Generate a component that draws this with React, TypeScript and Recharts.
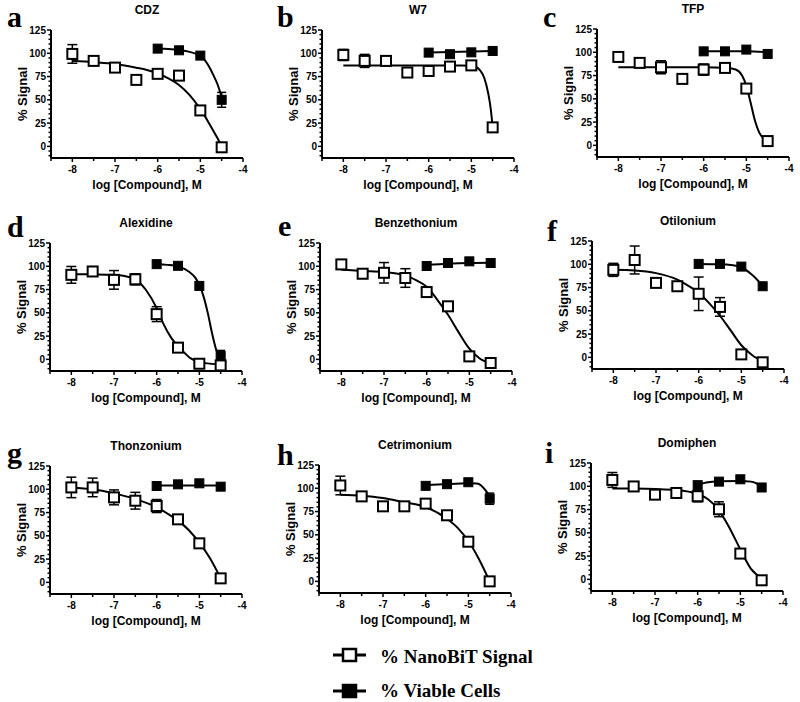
import React from 'react'
import { ComposedChart, Line, Scatter, XAxis, YAxis, ErrorBar } from 'recharts'

// concentrations (log M)
const CONC = [-8, -7.5, -7, -6.5, -6, -5.5, -5, -4.5]
const VIABLE_CONC = [-6, -5.5, -5, -4.5]

const X_TICKS = [-8.5, -8, -7.5, -7, -6.5, -6, -5.5, -5, -4.5, -4]
const Y_TICKS = [-10, -5, 0, 5, 10, 15, 20, 25, 30, 35, 40, 45, 50, 55, 60, 65, 70, 75, 80, 85, 90, 95, 100, 105, 110, 115, 120, 125]

// a - CDZ
const cdzSignal = [99.3, 91.8, 84.6, 71.4, 77.9, 76.0, 38.6, -1.0]
const cdzSignalErr = [10, 3, 3, 0, 0, 0, 0, 0]
const cdzViable = [105.0, 103.2, 97.5, 50.0]
const cdzViableErr = [0, 0, 0, 8]
const cdzSignalFitX = [-8, -7.5, -7, -6.5, -6.25, -6, -5.75, -5.5, -5.25, -5, -4.9, -4.8, -4.7, -4.6, -4.5]
const cdzSignalFit = [92, 90.5, 88.5, 84.5, 82, 78.5, 73, 66, 55, 40, 33, 25, 17, 9, 0]
const cdzViableFitX = [-6, -5.75, -5.5, -5.25, -5, -4.9, -4.8, -4.7, -4.6, -4.5]
const cdzViableFit = [105, 104.5, 103.5, 101.5, 97, 93, 86, 77, 67, 53]

// b - W7
const w7Signal = [98.2, 91.8, 91.8, 79.3, 81.0, 85.7, 87.0, 20.4]
const w7SignalErr = [6, 7, 0, 0, 0, 5, 4, 0]
const w7Viable = [100.7, 99.0, 101.0, 102.5]
const w7ViableErr = [0, 0, 0, 0]
const w7SignalFitX = [-8, -6, -5.25, -5, -4.9, -4.8, -4.7, -4.6, -4.55, -4.5]
const w7SignalFit = [87, 87, 87, 86.5, 85.5, 82, 74, 56, 42, 21]
const w7ViableFitX = [-6, -4.5]
const w7ViableFit = [100.7, 102.5]

// c - TFP
const tfpSignal = [95.0, 88.6, 83.9, 71.4, 81.4, 83.2, 61.0, 4.6]
const tfpSignalErr = [3, 4, 7, 4, 6, 0, 0, 0]
const tfpViable = [101.0, 101.0, 102.9, 98.2]
const tfpViableErr = [0, 0, 0, 0]
const tfpSignalFitX = [-8, -6, -5.5, -5.25, -5.1, -5, -4.9, -4.8, -4.7, -4.6, -4.5]
const tfpSignalFit = [84, 84, 83.5, 81.5, 75, 64, 46, 27, 14, 7.5, 4.5]
const tfpViableFitX = [-6, -5.5, -5, -4.5]
const tfpViableFit = [101.2, 101.2, 101, 100]

// d - Alexidine
const alexSignal = [90.8, 94.4, 85.4, 86.0, 48.6, 12.6, -4.7, -6.5]
const alexSignalErr = [9, 2, 10, 6, 8, 0, 0, 0]
const alexViable = [102.3, 100.5, 78.9, 3.6]
const alexViableErr = [0, 0, 0, 6]
const alexSignalFitX = [-8, -7.5, -7, -6.75, -6.5, -6.25, -6, -5.85, -5.65, -5.4, -5.2, -4.95, -4.5]
const alexSignalFit = [91.5, 91.3, 90.8, 89.5, 86, 74.5, 55, 39, 22.5, 9.5, 1, -3.5, -5.4]
const alexViableFitX = [-6, -5.75, -5.5, -5.25, -5.1, -5, -4.9, -4.8, -4.7, -4.6, -4.5]
const alexViableFit = [102.3, 101.5, 99.8, 94.4, 88, 80, 67.4, 49.4, 27.7, 9.7, 0.7]

// e - Benzethonium
const benzSignal = [102.0, 92.0, 93.0, 87.4, 72.3, 57.0, 3.2, -3.9]
const benzSignalErr = [3, 5, 11, 10, 0, 0, 0, 0]
const benzViable = [100.3, 103.5, 105.3, 103.5]
const benzViableErr = [0, 0, 0, 0]
const benzSignalFitX = [-8, -7.5, -7, -6.5, -6.25, -6, -5.75, -5.5, -5.25, -5, -4.75, -4.5]
const benzSignalFit = [96.3, 95, 93.8, 90.2, 85, 78, 64, 48, 29, 11.5, 0.7, -4.2]
const benzViableFitX = [-6, -5.5, -5, -4.5]
const benzViableFit = [101.5, 102.8, 103.6, 103.9]

// f - Otilonium
const otilSignal = [94.0, 104.6, 80.0, 76.4, 68.3, 54.2, 3.2, -5.3]
const otilSignalErr = [7, 15, 0, 0, 18, 10, 0, 0]
const otilViable = [100.4, 100.4, 97.5, 76.4]
const otilViableErr = [0, 0, 0, 0]
const otilSignalFitX = [-8, -7.5, -7, -6.5, -6.25, -6, -5.75, -5.5, -5.25, -5, -4.75, -4.5]
const otilSignalFit = [94, 93.3, 90.5, 83.5, 77, 69.4, 58, 44.7, 28.9, 13, 2.5, -4.6]
const otilViableFitX = [-6, -5.5, -5.25, -5, -4.75, -4.5]
const otilViableFit = [100.4, 100, 99.3, 96.8, 88.7, 77]

// g - Thonzonium
const thonSignal = [102.0, 102.0, 91.3, 87.7, 82.0, 67.7, 41.9, 4.3]
const thonSignalErr = [11, 10, 8, 9, 7, 3, 0, 0]
const thonViable = [103.5, 105.3, 106.4, 102.8]
const thonViableErr = [0, 0, 0, 0]
const thonSignalFitX = [-8, -7.5, -7, -6.5, -6, -5.75, -5.5, -5.25, -5, -4.75, -4.5]
const thonSignalFit = [101.7, 100, 95.6, 89.5, 80.6, 74, 66.3, 56.2, 42.6, 25.8, 4.3]
const thonViableFitX = [-6, -4.5]
const thonViableFit = [104, 104]

// h - Cetrimonium
const cetrSignal = [103.0, 91.3, 80.6, 80.6, 83.5, 71.0, 42.6, 0.0]
const cetrSignalErr = [10, 0, 0, 0, 0, 0, 0, 0]
const cetrViable = [102.6, 104.4, 106.5, 88.8]
const cetrViableErr = [0, 0, 0, 6]
const cetrSignalFitX = [-8, -7.5, -7, -6.5, -6, -5.5, -5.25, -5, -4.75, -4.5]
const cetrSignalFit = [93, 92, 89.5, 84.9, 79.9, 67.1, 57.5, 43.3, 23.8, 0]
const cetrViableFitX = [-6, -5.5, -5, -4.8, -4.7, -4.6, -4.5]
const cetrViableFit = [103.2, 104.5, 105.3, 105, 103, 98, 91.5]

// i - Domiphen
const domiSignal = [106.8, 99.8, 91.0, 92.8, 89.3, 75.3, 27.7, -1.0]
const domiSignalErr = [8, 0, 0, 0, 6, 8, 0, 0]
const domiViable = [101.2, 105.0, 107.5, 98.7]
const domiViableErr = [0, 0, 0, 0]
const domiSignalFitX = [-8, -7.5, -7, -6.5, -6, -5.75, -5.5, -5.25, -5, -4.75, -4.5]
const domiSignalFit = [97.7, 97.5, 97, 96, 91.7, 85.8, 74.2, 55, 32.2, 11.2, 1.4]
const domiViableFitX = [-6, -5.8, -5.5, -5, -4.75, -4.6, -4.5]
const domiViableFit = [101.5, 104, 105.5, 105.7, 105, 102.5, 99]

const PANELS = [
  { letter: 'a', title: 'CDZ', signal: cdzSignal, signalErr: cdzSignalErr, viable: cdzViable, viableErr: cdzViableErr, signalFitX: cdzSignalFitX, signalFit: cdzSignalFit, viableFitX: cdzViableFitX, viableFit: cdzViableFit },
  { letter: 'b', title: 'W7', signal: w7Signal, signalErr: w7SignalErr, viable: w7Viable, viableErr: w7ViableErr, signalFitX: w7SignalFitX, signalFit: w7SignalFit, viableFitX: w7ViableFitX, viableFit: w7ViableFit },
  { letter: 'c', title: 'TFP', signal: tfpSignal, signalErr: tfpSignalErr, viable: tfpViable, viableErr: tfpViableErr, signalFitX: tfpSignalFitX, signalFit: tfpSignalFit, viableFitX: tfpViableFitX, viableFit: tfpViableFit },
  { letter: 'd', title: 'Alexidine', signal: alexSignal, signalErr: alexSignalErr, viable: alexViable, viableErr: alexViableErr, signalFitX: alexSignalFitX, signalFit: alexSignalFit, viableFitX: alexViableFitX, viableFit: alexViableFit },
  { letter: 'e', title: 'Benzethonium', signal: benzSignal, signalErr: benzSignalErr, viable: benzViable, viableErr: benzViableErr, signalFitX: benzSignalFitX, signalFit: benzSignalFit, viableFitX: benzViableFitX, viableFit: benzViableFit },
  { letter: 'f', title: 'Otilonium', signal: otilSignal, signalErr: otilSignalErr, viable: otilViable, viableErr: otilViableErr, signalFitX: otilSignalFitX, signalFit: otilSignalFit, viableFitX: otilViableFitX, viableFit: otilViableFit },
  { letter: 'g', title: 'Thonzonium', signal: thonSignal, signalErr: thonSignalErr, viable: thonViable, viableErr: thonViableErr, signalFitX: thonSignalFitX, signalFit: thonSignalFit, viableFitX: thonViableFitX, viableFit: thonViableFit },
  { letter: 'h', title: 'Cetrimonium', signal: cetrSignal, signalErr: cetrSignalErr, viable: cetrViable, viableErr: cetrViableErr, signalFitX: cetrSignalFitX, signalFit: cetrSignalFit, viableFitX: cetrViableFitX, viableFit: cetrViableFit },
  { letter: 'i', title: 'Domiphen', signal: domiSignal, signalErr: domiSignalErr, viable: domiViable, viableErr: domiViableErr, signalFitX: domiSignalFitX, signalFit: domiSignalFit, viableFitX: domiViableFitX, viableFit: domiViableFit },
]

// page positions: left = y-axis line, top = y of 125, letter = baseline of panel letter
const LAYOUT = [
  { left: 51, top: 30, lx: 7, ly: 27 },
  { left: 322, top: 30, lx: 277, ly: 27 },
  { left: 597, top: 29, lx: 543, ly: 27 },
  { left: 50, top: 243, lx: 7, ly: 237 },
  { left: 320, top: 243, lx: 278, ly: 236 },
  { left: 592, top: 241, lx: 547, ly: 241 },
  { left: 50, top: 466, lx: 7, ly: 463 },
  { left: 319, top: 465, lx: 277, ly: 465 },
  { left: 591, top: 463, lx: 545, ly: 463 },
]

const SANS = '"Liberation Sans", Arial, Helvetica, sans-serif'
const SERIF = '"Liberation Serif", "Times New Roman", Times, serif'

const PLOT_W = 192
const PLOT_H = 128
const Y_AXIS_W = 58
const X_AXIS_H = 46
const TOP = 28
const RIGHT = 8

function XTick({ x, y, payload }: any) {
  const v = payload.value
  const major = Number.isInteger(v)
  return (
    <g>
      <line x1={x} x2={x} y1={y} y2={y + (major ? 4 : 3)} stroke="#000" strokeWidth={1.5} />
      {major && (
        <text x={x} y={y + 8} dy="0.71em" textAnchor="middle" fontSize={10} fontWeight={700} fontFamily={SANS} fill="#000">
          {v}
        </text>
      )}
    </g>
  )
}

function YTick({ x, y, payload }: any) {
  const v = payload.value
  const major = v % 25 === 0
  return (
    <g>
      <line x1={x - (major ? 4 : 2.5)} x2={x} y1={y} y2={y} stroke="#000" strokeWidth={1.5} />
      {major && v >= 0 && (
        <text x={x - 5} y={y} dy="0.35em" textAnchor="end" fontSize={10} fontWeight={700} fontFamily={SANS} fill="#000">
          {v}
        </text>
      )}
    </g>
  )
}

const openSquare = (props: any) => (
  <rect x={props.cx - 5} y={props.cy - 5} width={10} height={10} fill="#fff" stroke="#000" strokeWidth={2} />
)

const filledSquare = (props: any) => (
  <rect x={props.cx - 4.5} y={props.cy - 4.5} width={9} height={9} fill="#000" stroke="#000" strokeWidth={1} />
)

function Panel({ p, pos }: any) {
  const signalPts = CONC.map((x, i) => ({ x, y: p.signal[i], err: p.signalErr[i] }))
  const viablePts = VIABLE_CONC.map((x, i) => ({ x, y: p.viable[i], err: p.viableErr[i] }))
  const signalCurve = p.signalFitX.map((x: number, i: number) => ({ x, y: p.signalFit[i] }))
  const viableCurve = p.viableFitX.map((x: number, i: number) => ({ x, y: p.viableFit[i] }))

  return (
    <div style={{ position: 'absolute', left: pos.left - Y_AXIS_W, top: pos.top - TOP }}>
      <ComposedChart
        width={Y_AXIS_W + PLOT_W + RIGHT}
        height={TOP + PLOT_H + X_AXIS_H}
        margin={{ top: TOP, right: RIGHT, bottom: 0, left: 0 }}
      >
        <XAxis
          type="number"
          dataKey="x"
          domain={[-8.5, -4]}
          ticks={X_TICKS}
          interval={0}
          height={X_AXIS_H}
          tickSize={0}
          tickMargin={0}
          tickLine={false}
          tick={<XTick />}
          axisLine={{ stroke: '#000', strokeWidth: 2 }}
          label={{ value: 'log [Compound], M', position: 'insideBottom', offset: 15, fill: '#000', fontSize: 12, fontWeight: 700, fontFamily: SANS }}
        />
        <YAxis
          type="number"
          domain={[-12.5, 125]}
          ticks={Y_TICKS}
          interval={0}
          width={Y_AXIS_W}
          tickSize={0}
          tickMargin={0}
          tickLine={false}
          tick={<YTick />}
          axisLine={{ stroke: '#000', strokeWidth: 2 }}
          label={{ value: '% Signal', angle: -90, position: 'center', fill: '#000', fontSize: 13, fontWeight: 700, fontFamily: SANS }}
        />
        <Line data={signalCurve} dataKey="y" type="monotone" stroke="#000" strokeWidth={2} dot={false} isAnimationActive={false} />
        <Line data={viableCurve} dataKey="y" type="monotone" stroke="#000" strokeWidth={2} dot={false} isAnimationActive={false} />
        <Scatter data={signalPts} dataKey="y" shape={openSquare} isAnimationActive={false}>
          <ErrorBar dataKey="err" direction="y" width={5} stroke="#000" strokeWidth={1.5} />
        </Scatter>
        <Scatter data={viablePts} dataKey="y" shape={filledSquare} isAnimationActive={false}>
          <ErrorBar dataKey="err" direction="y" width={4.5} stroke="#000" strokeWidth={1.5} />
        </Scatter>
      </ComposedChart>
    </div>
  )
}

export default function App() {
  return (
    <div style={{ position: 'absolute', left: 0, top: 0, width: 800, height: 702, background: '#fff', overflow: 'hidden' }}>
      {PANELS.map((p, i) => (
        <Panel key={p.letter} p={p} pos={LAYOUT[i]} />
      ))}
      <svg width={800} height={702} style={{ position: 'absolute', left: 0, top: 0, pointerEvents: 'none' }}>
        {PANELS.map((p, i) => (
          <g key={p.letter}>
            <text x={LAYOUT[i].lx} y={LAYOUT[i].ly} fontSize={30} fontWeight={700} fontFamily={SERIF} fill="#000">
              {p.letter}
            </text>
            <text x={LAYOUT[i].left + PLOT_W / 2} y={LAYOUT[i].top - 16} textAnchor="middle" fontSize={12} fontWeight={700} fontFamily={SANS} fill="#000">
              {p.title}
            </text>
          </g>
        ))}
        {/* figure legend */}
        <line x1={333} x2={366} y1={655} y2={655} stroke="#000" strokeWidth={3} />
        <rect x={343} y={649} width={13} height={12} fill="#fff" stroke="#000" strokeWidth={2.5} />
        <text x={380} y={663} fontSize={19} fontWeight={700} fontFamily={SERIF} fill="#000">% NanoBiT Signal</text>
        <line x1={333} x2={366} y1={691} y2={691} stroke="#000" strokeWidth={3} />
        <rect x={343} y={685} width={13} height={12} fill="#000" stroke="#000" strokeWidth={2.5} />
        <text x={380} y={697} fontSize={19} fontWeight={700} fontFamily={SERIF} fill="#000">% Viable Cells</text>
      </svg>
    </div>
  )
}
